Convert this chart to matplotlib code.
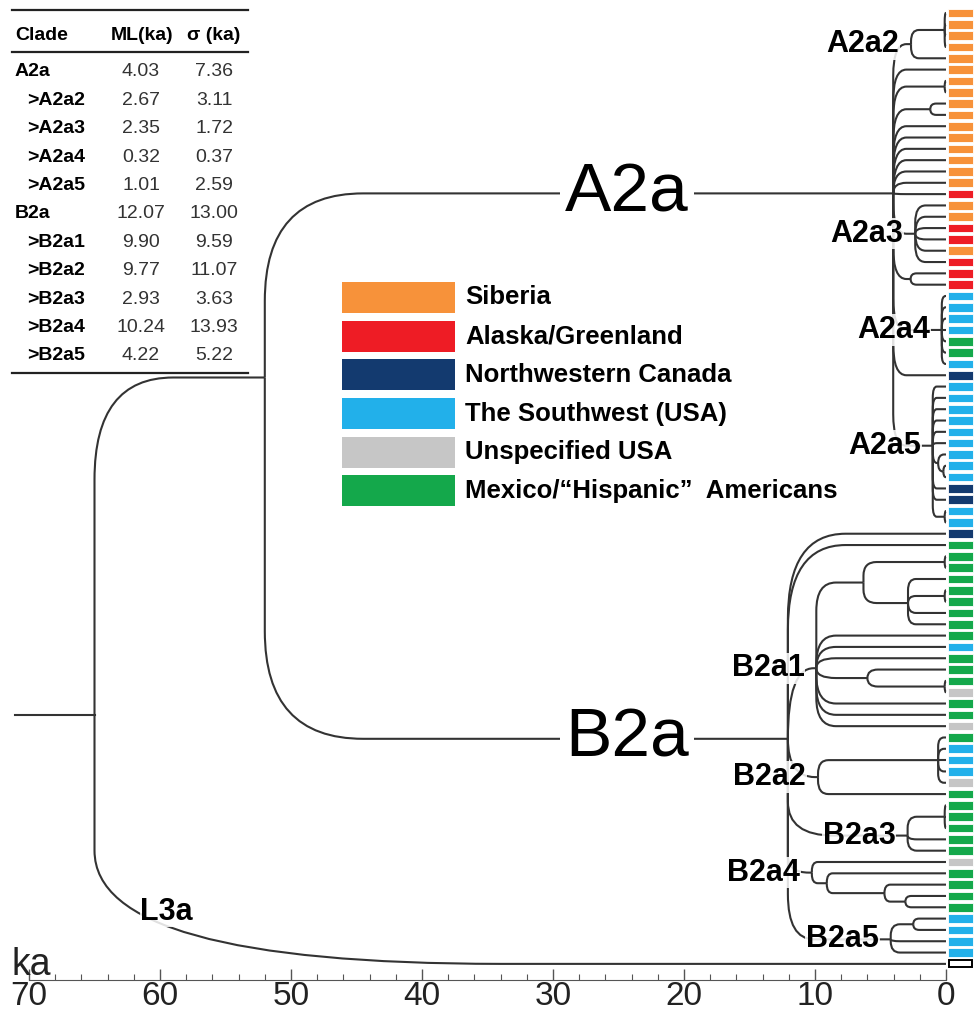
import numpy as np
import matplotlib
matplotlib.use('Agg')
import matplotlib.pyplot as plt
from matplotlib.path import Path
from matplotlib.patches import PathPatch, Rectangle
from matplotlib.lines import Line2D

plt.rcParams['font.family'] = ['Liberation Sans', 'DejaVu Sans']

# regions used to colour the tips
region_names = ['Siberia', 'Alaska/Greenland', 'Northwestern Canada',
                'The Southwest (USA)', 'Unspecified USA',
                'Mexico/\u201cHispanic\u201d  Americans']
region_colors = ['#F7923A', '#EE1C25', '#133A6F', '#22B0EA', '#C6C6C6', '#14A84B']

# region of every tip, top to bottom (-1 = outgroup)
tip_region = ([0] * 16 + [1, 0, 0, 1, 1, 0, 1, 1, 1] + [3] * 4 + [5] * 2 + [3, 2]
              + [3] * 9 + [2] * 2 + [3] * 2
              + [2] + [5] * 9 + [3] + [5] * 3 + [4] + [5] * 2 + [4] + [5]
              + [3] * 3 + [4] + [5] * 6 + [4] + [5] * 4 + [3] * 4 + [-1])

# ML ages table
table_clades = ['A2a', '>A2a2', '>A2a3', '>A2a4', '>A2a5',
                'B2a', '>B2a1', '>B2a2', '>B2a3', '>B2a4', '>B2a5']
table_ml = [4.03, 2.67, 2.35, 0.32, 1.01, 12.07, 9.90, 9.77, 2.93, 10.24, 4.22]
table_sigma = [7.36, 3.11, 1.72, 0.37, 2.59, 13.00, 9.59, 11.07, 3.63, 13.93, 5.22]
ml = {c.lstrip('>'): v for c, v in zip(table_clades, table_ml)}

# tree: node -> (age in ka, children); ints are tips
nodes = {
    'root': (65.0, ['N52', 84]),
    'N52': (52.0, ['A2a', 'B2a']),
    'A2a': (ml['A2a'], ['A2a2', 5, 'a1', 'a2', 10, 11, 12, 13, 14, 15, 16,
                        'A2a3', 'a3', 'A2a4', 32, 'A2a5']),
    'A2a2': (ml['A2a2'], ['a0', 4]),
    'a0': (0.1, [0, 1, 2, 3]),
    'a1': (0.1, [6, 7]),
    'a2': (1.2, [8, 9]),
    'A2a3': (ml['A2a3'], [17, 18, 19, 20, 21, 22]),
    'a3': (2.7, [23, 24]),
    'A2a4': (ml['A2a4'], [25, 26, 27, 28, 29, 30, 31]),
    'A2a5': (ml['A2a5'], [33, 34, 35, 36, 37, 38, 'a4', 42, 43, 'a5']),
    'a4': (0.6, [39, 'a6']),
    'a6': (0.2, [40, 41]),
    'a5': (0.1, [44, 45]),
    'B2a': (ml['B2a'], [46, 47, 'B2a1', 'B2a2', 'B2a3', 'B2a4', 'B2a5']),
    'B2a1': (ml['B2a1'], ['b1', 55, 56, 57, 'b3', 61, 62, 63]),
    'b1': (6.3, ['b1a', 'b2']),
    'b1a': (0.1, [48, 49]),
    'b2': (2.9, [50, 'b2a', 53, 54]),
    'b2a': (0.1, [51, 52]),
    'b3': (6.0, [58, 'b3a']),
    'b3a': (0.1, [59, 60]),
    'B2a2': (ml['B2a2'], ['b4', 69]),
    'b4': (0.6, [64, 65, 66, 67, 68]),
    'B2a3': (ml['B2a3'], ['b5', 73, 74]),
    'b5': (0.1, [70, 71, 72]),
    'B2a4': (ml['B2a4'], [75, 'b6']),
    'b6': (9.1, [76, 'b7']),
    'b7': (4.7, [77, 'b8']),
    'b8': (3.1, [78, 79]),
    'B2a5': (ml['B2a5'], ['b9', 82, 83]),
    'b9': (2.5, [80, 81]),
}

# ---- styling ----
line_color = '#333333'
line_w = 1.5
y_fixed = {'N52': 32.2, 'root': 62.0}
bend = {'root': (6.0, 9.0), 'N52': (7.5, 9.5), 'A2a': (1.0, 2.8), 'B2a': (4.4, 7.5),
        'B2a1': (1.5, 2.5), 'b1': (1.0, 1.2), 'b2': (0.6, 1.0), 'b3': (0.8, 1.0),
        'A2a2': (0.6, 1.0), 'A2a3': (0.8, 1.5), 'A2a5': (0.3, 1.0), 'B2a2': (0.8, 1.2),
        'B2a3': (0.7, 1.0), 'B2a5': (0.7, 1.0)}
edge_bend = {84: (31.0, 10.0), 'B2a3': (3.5, 3.0), 'B2a4': (1.6, 1.5), 'B2a5': (2.0, 4.0)}

W, H = 980, 1015
fig = plt.figure(figsize=(W / 100, H / 100), dpi=100)
ax = fig.add_axes([0, 0, 1, 1])
ax.set_xlim(946 / 13.1, (946 - W) / 13.1)
ax.set_ylim((H - 13) / 11.32, -13 / 11.32)


def fx(x):
    return x / W


def fy(y):
    return 1 - y / H


def node_x(n):
    return 0.0 if isinstance(n, int) else nodes[n][0]


def node_y(n):
    if isinstance(n, int):
        return float(n)
    if n in y_fixed:
        return y_fixed[n]
    return float(np.mean([node_y(c) for c in nodes[n][1]]))


def draw_edge(px, py, cx, cy, bx, by):
    dy = cy - py
    if abs(dy) < 1e-6:
        verts = [(px, py), (cx, cy)]
        codes = [Path.MOVETO, Path.LINETO]
    else:
        s = np.sign(dy)
        ry = min(by, abs(dy))
        rx = min(bx, 0.9 * (px - cx))
        verts = [(px, py), (px, cy - s * ry), (px, cy), (px - rx, cy), (cx, cy)]
        codes = [Path.MOVETO, Path.LINETO, Path.CURVE3, Path.CURVE3, Path.LINETO]
    ax.add_patch(PathPatch(Path(verts, codes), fill=False, ec=line_color,
                           lw=line_w, capstyle='butt', zorder=2))


def draw(n):
    if isinstance(n, int):
        return
    px, py = node_x(n), node_y(n)
    for c in nodes[n][1]:
        bx, by = edge_bend.get(c, bend.get(n, (0.45, 0.8)))
        draw_edge(px, py, node_x(c), node_y(c), bx, by)
        draw(c)


draw('root')
# stem below the root
ax.plot([71.1, nodes['root'][0]], [node_y('root')] * 2, color=line_color, lw=line_w)

# tip colour column
tips = np.arange(len(tip_region))
cols = [region_colors[r] if r >= 0 else 'white' for r in tip_region]
ax.barh(tips[:-1], -1.9, left=-0.15, height=0.76, color=cols[:-1],
        edgecolor='white', linewidth=0.6, zorder=3)
ax.barh(tips[-1:], -1.75, left=-0.22, height=0.6, color='white',
        edgecolor='black', linewidth=1.4, zorder=3)

# clade labels
box = dict(facecolor='white', edgecolor='none', alpha=0.85, pad=0.5)
for name in ml:
    if name in ('A2a', 'B2a'):
        ax.text(24.35, node_y(name), name, fontsize=50, ha='center', va='center',
                bbox=dict(facecolor='white', edgecolor='none', pad=4), zorder=5)
    else:
        ax.text(ml[name] + 0.9, node_y(name), name, fontsize=22, fontweight='bold',
                ha='right', va='center', bbox=box, zorder=5)
ax.text(59.5, 79.4, 'L3a', fontsize=22, fontweight='bold', ha='center',
        va='center', bbox=box, zorder=5)

# time axis
for s in ['left', 'right', 'top']:
    ax.spines[s].set_visible(False)
ax.spines['bottom'].set_position(('data', (980 - 13) / 11.32))
ax.spines['bottom'].set_bounds(0, 70)
ax.spines['bottom'].set_color('#555555')
ax.set_xticks(np.arange(0, 71, 10))
ax.set_xticks(np.arange(0, 71, 2), minor=True)
ax.set_yticks([])
ax.tick_params(axis='x', which='both', direction='in', colors='#555555',
               labelcolor='#222222', labelsize=24, pad=0.5)
ax.tick_params(axis='x', which='major', length=8, width=1)
ax.tick_params(axis='x', which='minor', length=4, width=0.8)
fig.text(fx(12), fy(975), 'ka', fontsize=27, ha='left', va='baseline', color='#222222')

# table of ML ages
rule = dict(color='#222222', lw=1.6)
for y in (10, 52, 373):
    fig.add_artist(Line2D([fx(12), fx(248)], [fy(y), fy(y)], **rule))
fig.text(fx(15), fy(36), 'Clade', fontsize=14, fontweight='bold', va='center')
fig.text(fx(142), fy(36), 'ML(ka)', fontsize=14, fontweight='bold', va='center', ha='center')
fig.text(fx(214), fy(36), '\u03c3 (ka)', fontsize=14, fontweight='bold', va='center', ha='center')
for i, (c, m, s) in enumerate(zip(table_clades, table_ml, table_sigma)):
    y = 72 + 28.4 * i
    fig.text(fx(27 if c.startswith('>') else 15), fy(y), c, fontsize=14,
             fontweight='bold', va='center')
    fig.text(fx(141), fy(y), f'{m:.2f}', fontsize=14, va='center', ha='center', color='#333333')
    fig.text(fx(214), fy(y), f'{s:.2f}', fontsize=14, va='center', ha='center', color='#333333')

# legend
for i, (name, c) in enumerate(zip(region_names, region_colors)):
    y = 282 + 38.7 * i
    fig.add_artist(Rectangle((fx(342), fy(y + 31)), 113 / W, 31 / H,
                             transform=fig.transFigure, facecolor=c, edgecolor='none'))
    fig.text(fx(465), fy(y + 15.5), name, fontsize=18.5, fontweight='bold', va='center')

# slide corner
fig.add_artist(Rectangle((0, fy(46)), 16 / W, 46 / H, transform=fig.transFigure,
                         facecolor='#dde2ee', edgecolor='none', zorder=0))

fig.savefig('out.png', dpi=100)
